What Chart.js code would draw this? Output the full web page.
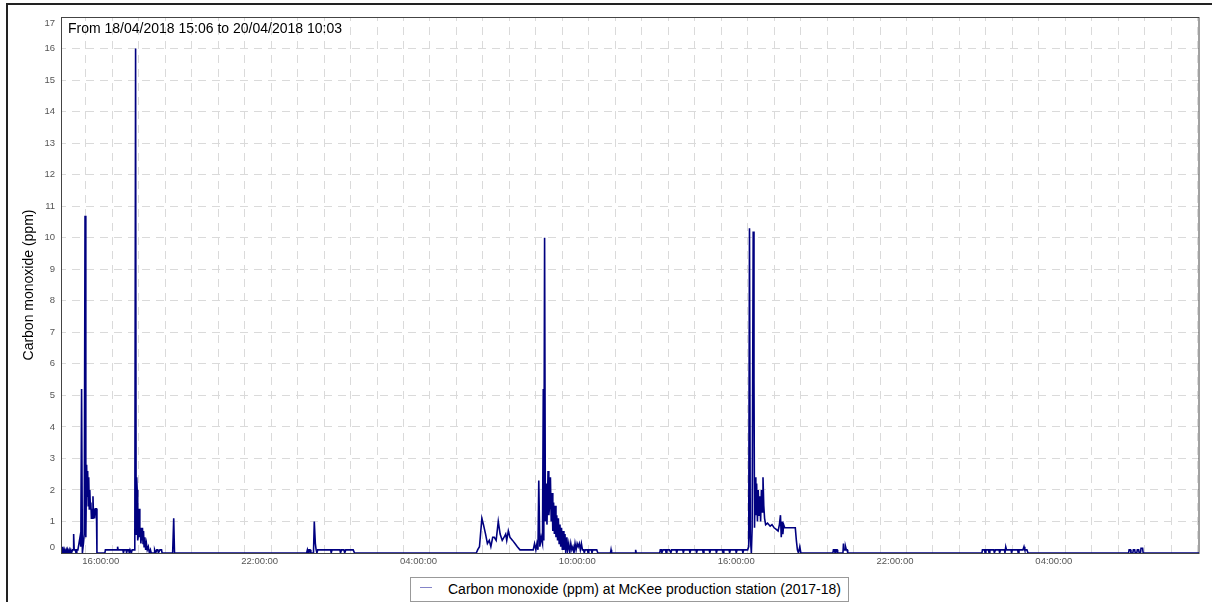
<!DOCTYPE html>
<html>
<head>
<meta charset="utf-8">
<script src="https://cdn.jsdelivr.net/npm/chart.js@4.4.1/dist/chart.umd.min.js"></script>
<style>
  html, body { margin: 0; padding: 0; background: #fff; overflow: hidden; }
  #wrap { position: relative; width: 1212px; height: 602px; }
  #frame { position: absolute; left: 6px; top: 3px; width: 1300px; height: 700px;
           border-left: 2px solid #222; border-top: 2px solid #222; }
  #chart { position: absolute; left: 0; top: 0; }
  #legend { position: absolute; left: 410px; top: 577px; width: 437px; height: 23px;
            border: 1px solid #999; background: #fff;
            font: 14px "Liberation Sans", Arial, sans-serif; line-height: 23px; color: #000; }
  #legend .swatch { position: absolute; left: 9px; top: 9px; width: 12px; height: 1px; background: #8484c8; }
  #legend .txt { position: absolute; left: 37px; top: 0; white-space: nowrap; }
</style>
</head>
<body>
<div id="wrap">
  <div id="frame"></div>
  <canvas id="chart" width="1212" height="602"></canvas>
  <div id="legend"><span class="swatch"></span><span class="txt">Carbon monoxide (ppm) at McKee production station (2017-18)</span></div>
</div>
<script>
// ore dal 18/04/2018 00:00
const xMin = 15.1;   // 18/04 15:06
const xMax = 58.05;  // 20/04 10:03
const rangeTitle = 'From 18/04/2018 15:06 to 20/04/2018 10:03';
const seriesName = 'Carbon monoxide (ppm) at McKee production station (2017-18)';

const labelHours = [16, 22, 28, 34, 40, 46, 52];
const tickLabels = ['16:00:00', '22:00:00', '04:00:00', '10:00:00', '16:00:00', '22:00:00', '04:00:00'];

const times = [
  15.10, 15.12, 15.15, 15.17, 15.20, 15.22, 15.26, 15.28, 15.31, 15.33, 15.37, 15.39, 15.43, 15.46,
  15.50, 15.53, 15.54, 15.56, 15.60, 15.63, 15.66, 15.70, 15.74, 15.78, 15.81, 15.84, 15.87, 15.91,
  15.94, 15.97, 16.00, 16.03, 16.05, 16.07, 16.09, 16.11, 16.13, 16.15, 16.17, 16.19, 16.21, 16.23,
  16.25, 16.27, 16.29, 16.31, 16.33, 16.36, 16.40, 16.42, 16.72, 16.74, 17.00, 17.18, 17.20, 17.22,
  17.40, 17.42, 17.45, 17.52, 17.54, 17.57, 17.62, 17.64, 17.67, 17.72, 17.75, 17.82, 17.85, 17.88,
  17.90, 17.92, 17.94, 17.96, 17.99, 18.02, 18.04, 18.06, 18.08, 18.10, 18.12, 18.14, 18.16, 18.18,
  18.20, 18.23, 18.26, 18.29, 18.32, 18.36, 18.40, 18.44, 18.47, 18.58, 18.60, 18.64, 18.68, 18.72,
  18.74, 18.80, 18.86, 18.88, 19.28, 19.32, 19.35,
  24.34, 24.37, 24.40, 24.43, 24.47, 24.50, 24.60, 24.63, 24.67, 24.70, 24.73, 24.76, 25.25, 25.27,
  25.30, 25.60, 25.62, 25.66, 25.75, 25.78, 25.82, 26.10, 26.15,
  30.75, 30.80, 30.87, 30.96, 31.02, 31.10, 31.17, 31.24, 31.30, 31.37, 31.43, 31.50, 31.58, 31.65,
  31.73, 31.80, 31.86, 31.90, 31.96, 32.02, 32.12, 32.21, 32.30, 32.40, 32.90, 32.95, 33.00, 33.04,
  33.08, 33.11, 33.15, 33.20, 33.25, 33.28, 33.30, 33.33, 33.36, 33.39, 33.42, 33.46, 33.49, 33.52,
  33.55, 33.58, 33.61, 33.64, 33.67, 33.70, 33.73, 33.76, 33.79, 33.82, 33.85, 33.88, 33.91, 33.94,
  33.97, 34.00, 34.03, 34.06, 34.10, 34.13, 34.17, 34.20, 34.24, 34.28, 34.32, 34.36, 34.40, 34.44,
  34.48, 34.52, 34.56, 34.60, 34.64, 34.68, 34.72, 34.76, 34.80, 34.83, 34.86, 34.95, 34.97, 35.00,
  35.10, 35.12, 35.15, 35.30, 35.34, 35.82, 35.84, 35.86, 36.75, 36.77, 36.79,
  37.68, 37.70, 37.74, 37.76, 37.80, 37.90, 37.92, 37.95, 38.05, 38.10, 38.13, 38.30, 38.32, 38.35,
  38.55, 38.57, 38.60, 38.80, 38.82, 38.85, 39.05, 39.07, 39.10, 39.30, 39.32, 39.35, 39.55, 39.57,
  39.60, 39.80, 39.82, 39.85, 40.05, 40.07, 40.10, 40.30, 40.32, 40.35, 40.55, 40.57, 40.60, 40.80,
  40.82, 40.85, 41.00,
  41.04, 41.07, 41.10, 41.14, 41.17, 41.21, 41.24, 41.26, 41.29, 41.31, 41.34, 41.37, 41.40, 41.43,
  41.46, 41.49, 41.52, 41.55, 41.58, 41.61, 41.64, 41.68, 41.75, 41.85, 41.92, 42.00, 42.08, 42.15,
  42.20, 42.24, 42.27, 42.30, 42.33, 42.36, 42.40, 42.50, 42.60, 42.70, 42.80, 42.84, 42.88, 42.92,
  42.97, 43.01,
  44.22, 44.24, 44.28, 44.30, 44.33, 44.38, 44.40, 44.60, 44.62, 44.64, 44.68, 44.70, 44.73, 44.76,
  44.78,
  49.85, 49.87, 49.95, 49.97, 50.00, 50.10, 50.12, 50.15, 50.30, 50.32, 50.36, 50.50, 50.52, 50.55,
  50.70, 50.72, 50.75, 50.78, 50.95, 50.97, 51.00, 51.20, 51.22, 51.25, 51.40, 51.44, 51.47, 51.55,
  51.59,
  55.39, 55.41, 55.46, 55.48, 55.55, 55.57, 55.62, 55.64, 55.70, 55.72, 55.77, 55.79, 55.84, 55.86,
  55.92, 55.94, 58.05
];

const ppm = [
  0.2, 0.0, 0.1, 0.0, 0.1, 0.0, 0.1, 0.0, 0.1, 0.0, 0.1, 0.0, 0.1, 0.0,
  0.1, 0.1, 0.6, 0.1, 0.1, 0.0, 0.1, 0.1, 0.3, 0.5, 0.2, 5.2, 0.0, 0.3,
  0.6, 10.7, 0.5, 2.8, 1.8, 2.6, 1.5, 2.4, 1.4, 2.0, 1.5, 1.6, 1.1, 1.4,
  1.1, 1.8, 1.2, 1.4, 1.1, 1.4, 1.4, 0.0, 0.0, 0.1, 0.1, 0.1, 0.2, 0.1,
  0.1, 0.0, 0.1, 0.1, 0.0, 0.1, 0.1, 0.0, 0.1, 0.0, 0.1, 0.1, 0.2, 16.0,
  0.6, 2.4, 2.0, 0.4, 0.6, 1.4, 0.5, 0.8, 0.3, 0.7, 0.4, 0.8, 0.3, 0.7,
  0.2, 0.5, 0.1, 0.3, 0.1, 0.2, 0.0, 0.1, 0.0, 0.0, 0.1, 0.0, 0.1, 0.1,
  0.0, 0.1, 0.1, 0.0, 0.0, 1.1, 0.0,
  0.0, 0.1, 0.0, 0.1, 0.1, 0.0, 0.0, 1.0, 0.3, 0.1, 0.0, 0.1, 0.1, 0.0,
  0.1, 0.1, 0.0, 0.1, 0.1, 0.0, 0.1, 0.1, 0.0,
  0.0, 0.1, 0.2, 1.1, 0.9, 0.6, 0.3, 0.4, 0.2, 0.5, 0.5, 0.4, 1.0, 0.6,
  0.4, 0.5, 0.6, 0.4, 0.7, 0.5, 0.4, 0.3, 0.2, 0.1, 0.1, 0.3, 0.1, 0.3,
  0.1, 2.3, 0.2, 0.5, 0.3, 5.2, 0.4, 10.0, 1.0, 2.2, 0.9, 2.6, 1.2, 1.5,
  2.4, 1.0, 1.9, 0.7, 1.6, 0.6, 1.5, 0.5, 1.2, 0.4, 1.1, 0.3, 0.9, 0.2,
  0.8, 0.1, 0.7, 0.1, 0.6, 0.0, 0.5, 0.1, 0.3, 0.0, 0.3, 0.1, 0.2, 0.0,
  0.3, 0.1, 0.3, 0.2, 0.3, 0.1, 0.3, 0.1, 0.1, 0.0, 0.1, 0.1, 0.0, 0.1,
  0.1, 0.0, 0.1, 0.1, 0.0, 0.0, 0.1, 0.0, 0.0, 0.1, 0.0,
  0.0, 0.1, 0.1, 0.0, 0.1, 0.1, 0.0, 0.1, 0.1, 0.0, 0.1, 0.1, 0.0, 0.1,
  0.1, 0.0, 0.1, 0.1, 0.0, 0.1, 0.1, 0.0, 0.1, 0.1, 0.0, 0.1, 0.1, 0.0,
  0.1, 0.1, 0.0, 0.1, 0.1, 0.0, 0.1, 0.1, 0.0, 0.1, 0.1, 0.0, 0.1, 0.1,
  0.0, 0.1, 0.1,
  0.2, 10.3, 0.5, 0.0, 0.8, 10.2, 5.5, 0.8, 2.4, 1.2, 2.2, 1.0, 2.0, 1.2,
  1.8, 1.0, 2.0, 1.3, 2.4, 1.5, 1.1, 0.9, 0.95, 0.85, 0.9, 0.8, 0.75, 0.7,
  0.9, 1.2, 0.5, 1.0, 0.6, 0.9, 0.8, 0.8, 0.8, 0.8, 0.8, 0.4, 0.1, 0.0,
  0.2, 0.0,
  0.0, 0.1, 0.1, 0.0, 0.1, 0.1, 0.0, 0.0, 0.3, 0.1, 0.1, 0.2, 0.1, 0.1,
  0.0,
  0.0, 0.1, 0.1, 0.0, 0.1, 0.1, 0.0, 0.1, 0.1, 0.0, 0.1, 0.1, 0.0, 0.1,
  0.1, 0.0, 0.2, 0.1, 0.1, 0.0, 0.1, 0.1, 0.0, 0.1, 0.1, 0.2, 0.1, 0.1,
  0.0,
  0.0, 0.1, 0.1, 0.0, 0.0, 0.1, 0.1, 0.0, 0.0, 0.1, 0.1, 0.0, 0.0, 0.15,
  0.15, 0.0, 0.0
];

// ore intere per la griglia verticale
const gridHours = [];
for (let h = Math.ceil(xMin); h <= Math.floor(xMax); h++) gridHours.push(h);

const fontFamily = '"Liberation Sans", Arial, sans-serif';
const tickFont = { family: fontFamily, size: 9.5 };

// cornice dell'area del grafico, titolo interno, etichette 0 e 17 spostate dentro
const framePlugin = {
  id: 'framePlugin',
  beforeDatasetsDraw(chart) {
    const { ctx, chartArea: a } = chart;
    ctx.save();
    ctx.strokeStyle = '#444';
    ctx.lineWidth = 1;
    ctx.strokeRect(a.left - 0.5, a.top + 0.5, a.right - a.left + 0.5, a.bottom - a.top);
    ctx.restore();
  },
  afterDraw(chart) {
    const { ctx, chartArea: a } = chart;
    const y = chart.scales.y;
    ctx.save();
    ctx.fillStyle = '#000';
    ctx.font = '14px ' + fontFamily;
    ctx.textBaseline = 'middle';
    ctx.fillText(rangeTitle, a.left + 6, a.top + 12);

    ctx.fillStyle = '#555';
    ctx.font = tickFont.size + 'px ' + fontFamily;
    ctx.textAlign = 'right';
    ctx.fillText(String(y.min), a.left - 7, y.getPixelForValue(y.min) - 6);
    ctx.fillText(String(y.max), a.left - 7, y.getPixelForValue(y.max) + 6);
    ctx.restore();
  }
};

const ctx = document.getElementById('chart').getContext('2d');
new Chart(ctx, {
  type: 'line',
  data: {
    datasets: [{
      label: seriesName,
      data: times.map((t, i) => ({ x: t, y: ppm[i] })),
      borderColor: '#000080',
      borderWidth: 1.6,
      pointRadius: 0,
      tension: 0,
      fill: false
    }]
  },
  options: {
    responsive: false,
    animation: false,
    devicePixelRatio: 1,
    layout: { padding: { left: 0, top: 17, right: 13, bottom: 0 } },
    plugins: { legend: { display: false }, tooltip: { enabled: false } },
    scales: {
      x: {
        type: 'linear',
        min: xMin,
        max: xMax,
        afterFit: s => { s.height = 49; },
        afterBuildTicks: s => { s.ticks = gridHours.map(v => ({ value: v })); },
        grid: { color: '#dadada', drawTicks: false },
        border: { display: false, dash: [8, 6], dashOffset: 4 },
        ticks: {
          autoSkip: false,
          maxRotation: 0,
          padding: 3,
          labelOffset: 15,
          color: '#555',
          font: tickFont,
          callback: v => {
            const i = labelHours.indexOf(v);
            return i >= 0 ? tickLabels[i] : '';
          }
        }
      },
      y: {
        min: 0,
        max: 17,
        afterFit: s => { s.width = 62; },
        grid: { color: '#dadada', drawTicks: false },
        border: { display: false, dash: [8, 6], dashOffset: 4 },
        ticks: {
          stepSize: 1,
          padding: 7,
          color: '#555',
          font: tickFont,
          // 0 e 17 disegnate dal plugin, spostate verso l'interno
          callback: v => (v === 0 || v === 17) ? '' : v
        },
        title: {
          display: true,
          text: 'Carbon monoxide (ppm)',
          color: '#000',
          font: { family: fontFamily, size: 14 },
          padding: { top: 21, bottom: 0 }
        }
      }
    }
  },
  plugins: [framePlugin]
});
</script>
</body>
</html>
